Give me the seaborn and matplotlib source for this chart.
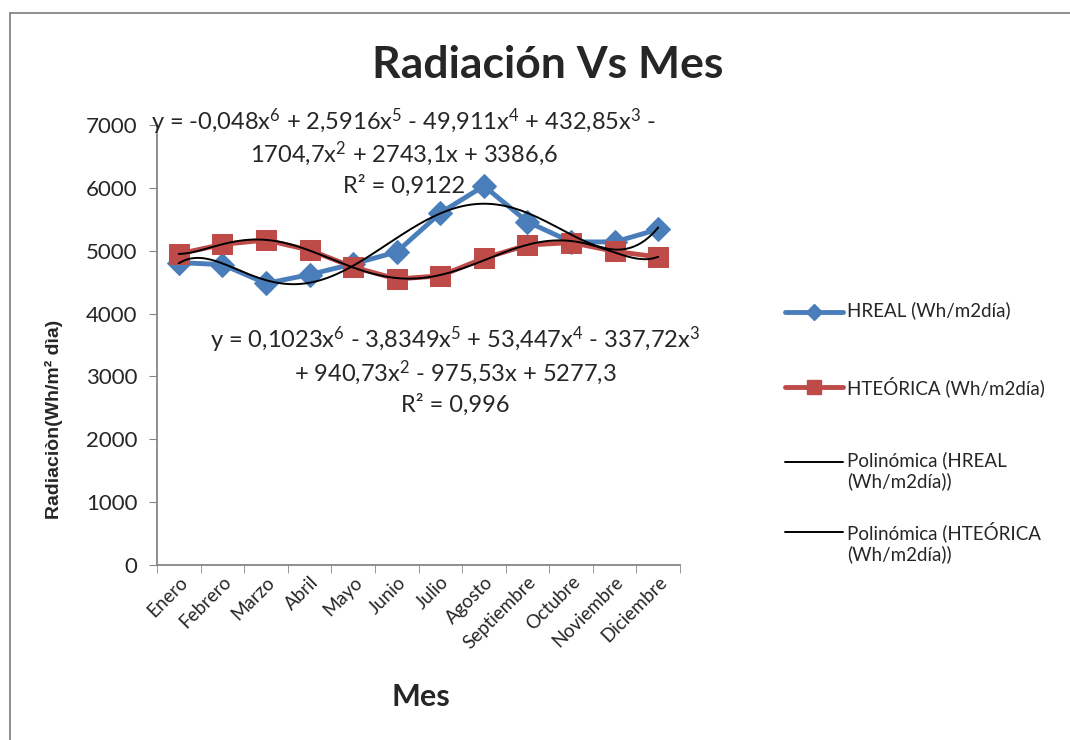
import numpy as np
import pandas as pd
import matplotlib
matplotlib.use('Agg')
import matplotlib.pyplot as plt
import seaborn as sns
from matplotlib.lines import Line2D

meses = ['Enero', 'Febrero', 'Marzo', 'Abril', 'Mayo', 'Junio', 'Julio',
         'Agosto', 'Septiembre', 'Octubre', 'Noviembre', 'Diciembre']
hreal = [4810, 4780, 4480, 4620, 4790, 4980, 5600, 6030, 5460, 5140, 5140, 5340]
hteorica = [4950, 5100, 5170, 5010, 4740, 4550, 4600, 4880, 5090, 5130, 4990, 4900]

eq_real = ['y = -0,048x$^{6}$ + 2,5916x$^{5}$ - 49,911x$^{4}$ + 432,85x$^{3}$ -',
           '1704,7x$^{2}$ + 2743,1x + 3386,6',
           'R² = 0,9122']
eq_teo = ['y = 0,1023x$^{6}$ - 3,8349x$^{5}$ + 53,447x$^{4}$ - 337,72x$^{3}$',
          '+ 940,73x$^{2}$ - 975,53x + 5277,3',
          'R² = 0,996']

sns.set_style('white')
plt.rcParams['font.family'] = ['Lato', 'DejaVu Sans']
plt.rcParams['mathtext.default'] = 'regular'

BLUE = '#4A7EBB'
RED = '#BE4B48'
GRIS = '#868686'

df = pd.DataFrame({'pos': np.arange(len(meses)), 'mes': meses,
                   'HREAL (Wh/m2día)': hreal, 'HTEÓRICA (Wh/m2día)': hteorica})

fig = plt.figure(figsize=(10.7, 7.4), dpi=100)
ax = fig.add_axes([157 / 1070, 1 - 565 / 740, (680 - 157) / 1070, (565 - 125) / 740])

sns.lineplot(data=df, x='pos', y='HREAL (Wh/m2día)', ax=ax, color=BLUE,
             linewidth=3.5, marker='D', markersize=12, markeredgecolor=BLUE)
sns.lineplot(data=df, x='pos', y='HTEÓRICA (Wh/m2día)', ax=ax, color=RED,
             linewidth=3.5, marker='s', markersize=14, markeredgecolor=RED)

# polynomial trendlines (degree 6), x = 1..12 as in Excel
xs = np.arange(1, len(meses) + 1)
xf = np.linspace(1, len(meses), 300)
for serie in (hreal, hteorica):
    coef = np.polyfit(xs, serie, 6)
    sns.lineplot(x=xf - 1, y=np.polyval(coef, xf), ax=ax, color='black',
                 linewidth=1.4, estimator=None)

ax.set_xlim(-0.5, len(meses) - 0.5)
ax.set_ylim(0, 7000)
ax.set_yticks(range(0, 7001, 1000))
ax.set_xticks(range(len(meses)))
ax.set_xticklabels(meses, rotation=45, ha='right', rotation_mode='anchor',
                   fontsize=13.5)
ax.set_xticks(np.arange(-0.5, len(meses), 1), minor=True)
ax.tick_params(axis='x', which='major', length=0, pad=6)
ax.tick_params(axis='x', which='minor', length=6, color=GRIS, direction='out',
               bottom=True)
ax.tick_params(axis='y', length=6, color=GRIS, direction='out', labelsize=16,
               pad=8, left=True)
for s in ('top', 'right'):
    ax.spines[s].set_visible(False)
for s in ('left', 'bottom'):
    ax.spines[s].set_color(GRIS)
    ax.spines[s].set_linewidth(1.3)

ax.set_xlabel('')
ax.set_ylabel('')
fig.text(54 / 1070, 1 - 419 / 740, 'Radiaciòn(Wh/m² dìa)', rotation=90,
         ha='center', va='center', fontsize=14, fontweight='bold',
         family=['Liberation Sans', 'DejaVu Sans'])
fig.text(421 / 1070, 1 - 697 / 740, 'Mes', ha='center', va='center',
         fontsize=22, fontweight='bold')
fig.text(548 / 1070, 1 - 65 / 740, 'Radiación Vs Mes', ha='center', va='center',
         fontsize=32, fontweight='bold')

for i, t in enumerate(eq_real):
    fig.text(404 / 1070, 1 - (122 + 32 * i) / 740, t, ha='center', va='center',
             fontsize=17)
for i, t in enumerate(eq_teo):
    fig.text(455 / 1070, 1 - (340 + 32.5 * i) / 740, t, ha='center', va='center',
             fontsize=17)

# legend drawn like Excel: uneven spacing between entries
leyenda = [('HREAL (Wh/m2día)', dict(color=BLUE, lw=3.5, marker='D', markersize=8), 312),
           ('HTEÓRICA (Wh/m2día)', dict(color=RED, lw=3.5, marker='s', markersize=10), 387),
           ('Polinómica (HREAL\n(Wh/m2día))', dict(color='black', lw=1.4), 462),
           ('Polinómica (HTEÓRICA\n(Wh/m2día))', dict(color='black', lw=1.4), 532)]
for texto, estilo, yy in leyenda:
    fy = 1 - yy / 740
    fig.add_artist(Line2D([785 / 1070, 814 / 1070, 843 / 1070], [fy, fy, fy],
                          transform=fig.transFigure, markevery=[1], **estilo))
    fig.text(847 / 1070, fy + 11 / 740, texto, ha='left', va='top',
             fontsize=13.5, linespacing=1.25)

# chart area border
fig.add_artist(Line2D([10 / 1070, 10 / 1070], [0, 1 - 13 / 740],
                      transform=fig.transFigure, color=GRIS, lw=1.3))
fig.add_artist(Line2D([10 / 1070, 1], [1 - 13 / 740, 1 - 13 / 740],
                      transform=fig.transFigure, color=GRIS, lw=1.3))

fig.savefig('out.png', dpi=100)
